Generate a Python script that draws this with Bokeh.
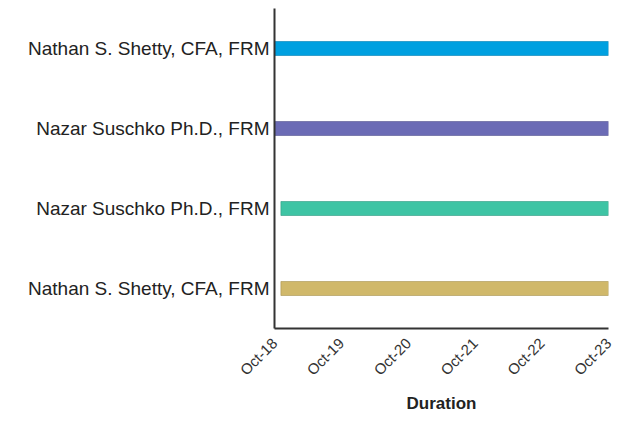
import math
import pandas as pd
from bokeh.plotting import figure
from bokeh.models import ColumnDataSource, FixedTicker, Range1d
from bokeh.embed import file_html
from bokeh.resources import INLINE

names = ["Nathan S. Shetty, CFA, FRM", "Nazar Suschko Ph.D., FRM",
         "Nazar Suschko Ph.D., FRM", "Nathan S. Shetty, CFA, FRM"]
starts = ["2018-10-01", "2018-10-01", "2018-11-05", "2018-11-05"]
ends = ["2023-10-01", "2023-10-01", "2023-10-01", "2023-10-01"]
colors = ["#00a0e0", "#6b6bb5", "#3ec4a4", "#d0b86a"]
edge_colors = ["#007fb3", "#55558f", "#2f9a80", "#a89350"]
tick_dates = ["2018-10-01", "2019-10-01", "2020-10-01", "2021-10-01", "2022-10-01", "2023-10-01"]
tick_labels = ["Oct-18", "Oct-19", "Oct-20", "Oct-21", "Oct-22", "Oct-23"]

ypos = [3, 2, 1, 0]
src = ColumnDataSource(dict(
    y=ypos,
    left=pd.to_datetime(starts),
    right=pd.to_datetime(ends),
    color=colors,
    edge=edge_colors,
))

x0 = pd.Timestamp(tick_dates[0])
x1 = pd.Timestamp(tick_dates[-1])

p = figure(width=624, height=416, output_backend="svg", toolbar_location=None,
           x_axis_type="datetime",
           x_range=Range1d(x0, x1), y_range=Range1d(-0.5, 3.5),
           min_border_left=274, min_border_right=16, min_border_top=8, min_border_bottom=86)
p.hbar(y="y", left="left", right="right", height=0.175, source=src,
       fill_color="color", line_color="edge", line_width=1, line_alpha=0.6)

p.outline_line_color = None
p.grid.visible = False
p.background_fill_color = "white"
p.border_fill_color = "white"

tick_ms = [pd.Timestamp(d).value / 1e6 for d in tick_dates]
xa = p.xaxis[0]
xa.ticker = FixedTicker(ticks=tick_ms)
xa.major_label_overrides = {t: lab for t, lab in zip(tick_ms, tick_labels)}
xa.major_label_orientation = math.pi / 4
xa.major_tick_line_color = None
xa.major_tick_out = 0
xa.major_tick_in = 0
xa.minor_tick_line_color = None
xa.minor_tick_out = 0
xa.axis_line_color = "#333333"
xa.axis_line_width = 2
xa.major_label_text_font = "Liberation Sans"
xa.major_label_text_font_size = "15px"
xa.major_label_text_color = "#333333"
xa.major_label_standoff = 12
xa.axis_label = "Duration"
xa.axis_label_text_font = "Liberation Sans"
xa.axis_label_text_font_style = "bold"
xa.axis_label_text_font_size = "17px"
xa.axis_label_text_color = "#222222"
xa.axis_label_standoff = 7

ya = p.yaxis[0]
ya.ticker = FixedTicker(ticks=ypos)
ya.major_label_overrides = {y: n for y, n in zip(ypos, names)}
ya.major_tick_line_color = None
ya.major_tick_out = 0
ya.major_tick_in = 0
ya.minor_tick_line_color = None
ya.minor_tick_out = 0
ya.axis_line_color = "#333333"
ya.axis_line_width = 2
ya.major_label_text_font = "Liberation Sans"
ya.major_label_text_font_size = "19px"
ya.major_label_text_color = "#222222"
ya.major_label_standoff = 5

open("out.html", "w").write(file_html(p, INLINE))
